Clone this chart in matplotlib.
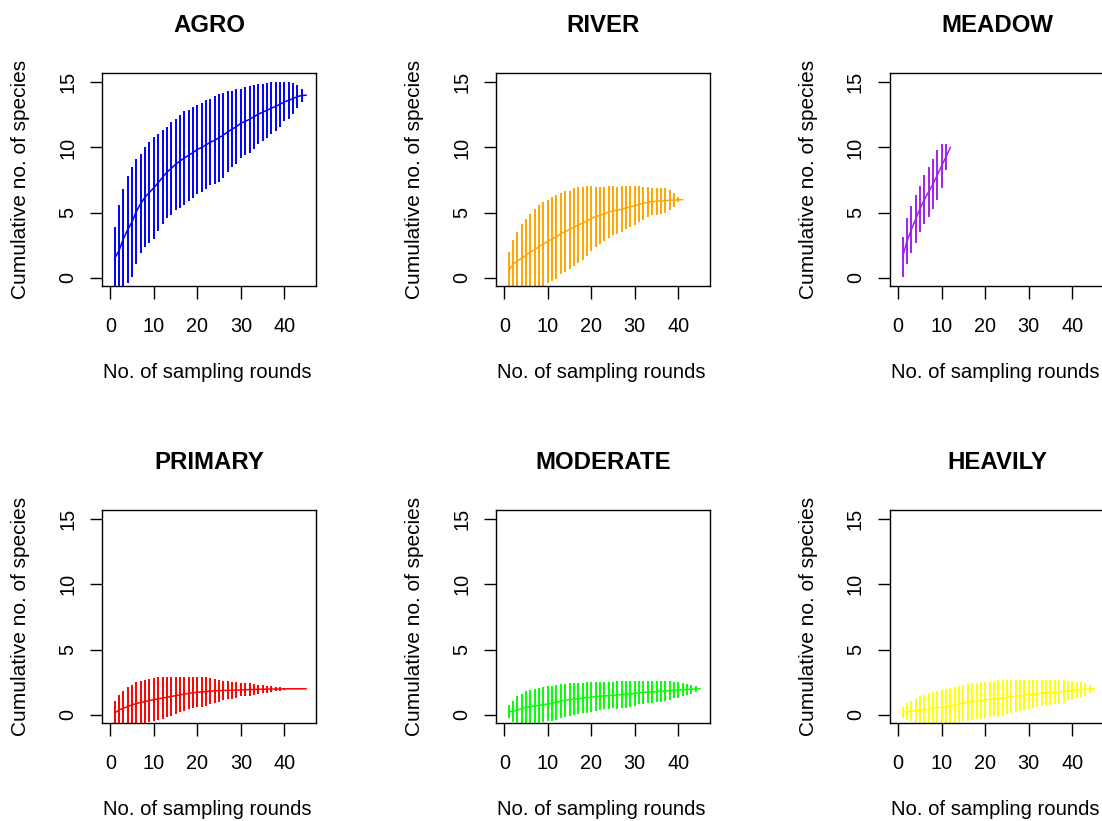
import matplotlib
matplotlib.use("Agg")
import matplotlib.pyplot as plt
import numpy as np

plt.rcParams['font.family'] = ['Liberation Sans', 'DejaVu Sans']

# Species accumulation curves per habitat: mean richness and sd for each number of sampling rounds
titles = ['AGRO', 'RIVER', 'MEADOW', 'PRIMARY', 'MODERATE', 'HEAVILY']
colours = ['#0000FF', '#FFA500', '#A020F0', '#FF0000', '#00FF00', '#FFFF00']

agro_mean = [1.5, 2.1, 3.0, 3.7, 4.3, 5.1, 5.7, 6.2, 6.55, 6.9, 7.3, 7.7, 8.1, 8.4, 8.7,
             8.95, 9.2, 9.4, 9.6, 9.85, 10.0, 10.2, 10.4, 10.55, 10.75, 10.95, 11.2, 11.4,
             11.6, 11.85, 12.0, 12.15, 12.35, 12.55, 12.7, 12.85, 13.0, 13.15, 13.3, 13.5,
             13.6, 13.75, 13.9, 13.98, 14.0]
agro_sd = [1.22, 1.73, 1.9, 2.05, 2.1, 2.0, 1.9, 1.9, 1.93, 1.95, 1.85, 1.8, 1.75, 1.78,
           1.75, 1.78, 1.8, 1.75, 1.75, 1.72, 1.7, 1.7, 1.65, 1.68, 1.68, 1.63, 1.55, 1.45,
           1.43, 1.33, 1.3, 1.28, 1.23, 1.15, 1.1, 1.05, 1.0, 0.93, 0.85, 0.75, 0.7, 0.58,
           0.45, 0.26, 0.0]

river_mean = [0.55, 1.05, 1.3, 1.5, 1.75, 2.0, 2.15, 2.4, 2.6, 2.8, 3.0, 3.15, 3.4, 3.55,
              3.7, 3.9, 4.05, 4.2, 4.35, 4.55, 4.7, 4.8, 4.9, 5.05, 5.15, 5.2, 5.27, 5.37,
              5.45, 5.53, 5.63, 5.72, 5.8, 5.85, 5.88, 5.9, 5.92, 5.95, 5.97, 5.99, 6.0]
river_sd = [0.73, 0.93, 1.1, 1.3, 1.4, 1.45, 1.55, 1.6, 1.6, 1.6, 1.6, 1.6, 1.55, 1.55,
            1.5, 1.48, 1.45, 1.4, 1.33, 1.23, 1.15, 1.1, 1.05, 0.98, 0.93, 0.9, 0.87, 0.82,
            0.78, 0.74, 0.69, 0.64, 0.58, 0.53, 0.51, 0.5, 0.47, 0.38, 0.27, 0.1, 0.0]

meadow_mean = [1.6, 2.8, 3.7, 4.5, 5.3, 6.0, 6.6, 7.2, 7.9, 8.6, 9.3, 10.0]
meadow_sd = [0.76, 0.88, 0.9, 0.92, 0.88, 0.95, 0.95, 0.95, 0.95, 0.85, 0.5, 0.0]

primary_mean = [0.13, 0.38, 0.5, 0.64, 0.77, 0.87, 0.95, 1.03, 1.1, 1.16, 1.23, 1.29, 1.35,
                1.41, 1.47, 1.53, 1.59, 1.65, 1.7, 1.73, 1.76, 1.79, 1.82, 1.84, 1.86, 1.87,
                1.88, 1.89, 1.9, 1.91, 1.93, 1.94, 1.95, 1.96, 1.97, 1.97, 1.98, 1.98, 1.99,
                1.99, 2.0, 2.0, 2.0, 2.0, 2.0]
primary_sd = [0.48, 0.58, 0.65, 0.73, 0.77, 0.82, 0.83, 0.84, 0.84, 0.83, 0.82, 0.79, 0.76,
              0.73, 0.7, 0.67, 0.64, 0.61, 0.59, 0.57, 0.56, 0.54, 0.5, 0.47, 0.42, 0.37,
              0.34, 0.32, 0.3, 0.25, 0.25, 0.25, 0.22, 0.17, 0.15, 0.14, 0.13, 0.08, 0.07,
              0.03, 0.015, 0.0, 0.0, 0.0, 0.0]

moderate_mean = [0.25, 0.28, 0.35, 0.5, 0.58, 0.64, 0.69, 0.73, 0.78, 0.84, 0.9, 0.97, 1.05,
                 1.12, 1.16, 1.2, 1.24, 1.28, 1.32, 1.36, 1.4, 1.44, 1.46, 1.48, 1.5, 1.53,
                 1.55, 1.57, 1.6, 1.65, 1.7, 1.73, 1.75, 1.77, 1.79, 1.81, 1.84, 1.86, 1.89,
                 1.91, 1.93, 1.95, 1.97, 1.99, 2.0]
moderate_sd = [0.26, 0.41, 0.53, 0.55, 0.61, 0.64, 0.66, 0.66, 0.68, 0.67, 0.67, 0.67, 0.66,
               0.63, 0.64, 0.62, 0.6, 0.58, 0.59, 0.57, 0.55, 0.53, 0.52, 0.51, 0.5, 0.54,
               0.53, 0.52, 0.5, 0.48, 0.45, 0.44, 0.43, 0.42, 0.41, 0.4, 0.38, 0.35, 0.3,
               0.3, 0.25, 0.2, 0.17, 0.1, 0.0]

heavily_mean = [0.2, 0.25, 0.3, 0.33, 0.37, 0.4, 0.44, 0.5, 0.55, 0.58, 0.61, 0.66, 0.76,
                0.84, 0.9, 0.96, 1.01, 1.05, 1.09, 1.14, 1.19, 1.22, 1.26, 1.3, 1.35, 1.4,
                1.44, 1.48, 1.52, 1.55, 1.58, 1.62, 1.66, 1.7, 1.72, 1.74, 1.77, 1.8, 1.84,
                1.87, 1.91, 1.94, 1.96, 1.99, 2.0]
heavily_sd = [0.22, 0.33, 0.4, 0.45, 0.52, 0.57, 0.62, 0.62, 0.65, 0.67, 0.7, 0.7, 0.68,
              0.7, 0.7, 0.71, 0.72, 0.7, 0.7, 0.7, 0.68, 0.66, 0.7, 0.68, 0.66, 0.63, 0.61,
              0.6, 0.57, 0.56, 0.54, 0.52, 0.5, 0.48, 0.47, 0.46, 0.45, 0.43, 0.36, 0.35,
              0.3, 0.28, 0.24, 0.16, 0.0]

means = [agro_mean, river_mean, meadow_mean, primary_mean, moderate_mean, heavily_mean]
sds = [agro_sd, river_sd, meadow_sd, primary_sd, moderate_sd, heavily_sd]

x_ticks = [0, 10, 20, 30, 40]
y_ticks = [0, 5, 10, 15]

fig = plt.figure(figsize=(11.02, 8.21), dpi=100)

col_left = [0.0926, 0.4501, 0.8076]
row_bottom = [0.6516, 0.1194]
w, h = 0.1942, 0.2594

for i in range(6):
    ax = fig.add_axes([col_left[i % 3], row_bottom[i // 3], w, h])
    m = np.array(means[i])
    s = np.array(sds[i])
    sites = np.arange(1, len(m) + 1)

    # mean curve with +/- 2 sd bars, as R's specaccum plot does
    ax.plot(sites, m, color=colours[i], lw=1.1)
    ax.vlines(sites, m - 2 * s, m + 2 * s, color=colours[i], lw=1.4)

    ax.set_xlim(-1.9, 47.3)
    ax.set_ylim(-0.62, 15.7)
    ax.set_xticks(x_ticks)
    ax.set_yticks(y_ticks)
    ax.tick_params(axis='both', direction='out', length=9, width=1.0,
                   labelsize=14.3, color='black')
    ax.tick_params(axis='x', pad=13)
    ax.tick_params(axis='y', pad=9)
    for lab in ax.get_yticklabels():
        lab.set_rotation(90)
        lab.set_verticalalignment('center')
    for sp in ax.spines.values():
        sp.set_linewidth(1.0)

    ax.text(0.5, 1.225, titles[i], transform=ax.transAxes, ha='center', va='center',
            fontsize=17.3, fontweight='bold')
    ax.text(0.49, -0.405, 'No. of sampling rounds', transform=ax.transAxes,
            ha='center', va='center', fontsize=14.6)
    ax.text(-0.383, 0.5, 'Cumulative no. of species', transform=ax.transAxes,
            ha='center', va='center', rotation=90, fontsize=15)

fig.savefig('out.png', dpi=100)
